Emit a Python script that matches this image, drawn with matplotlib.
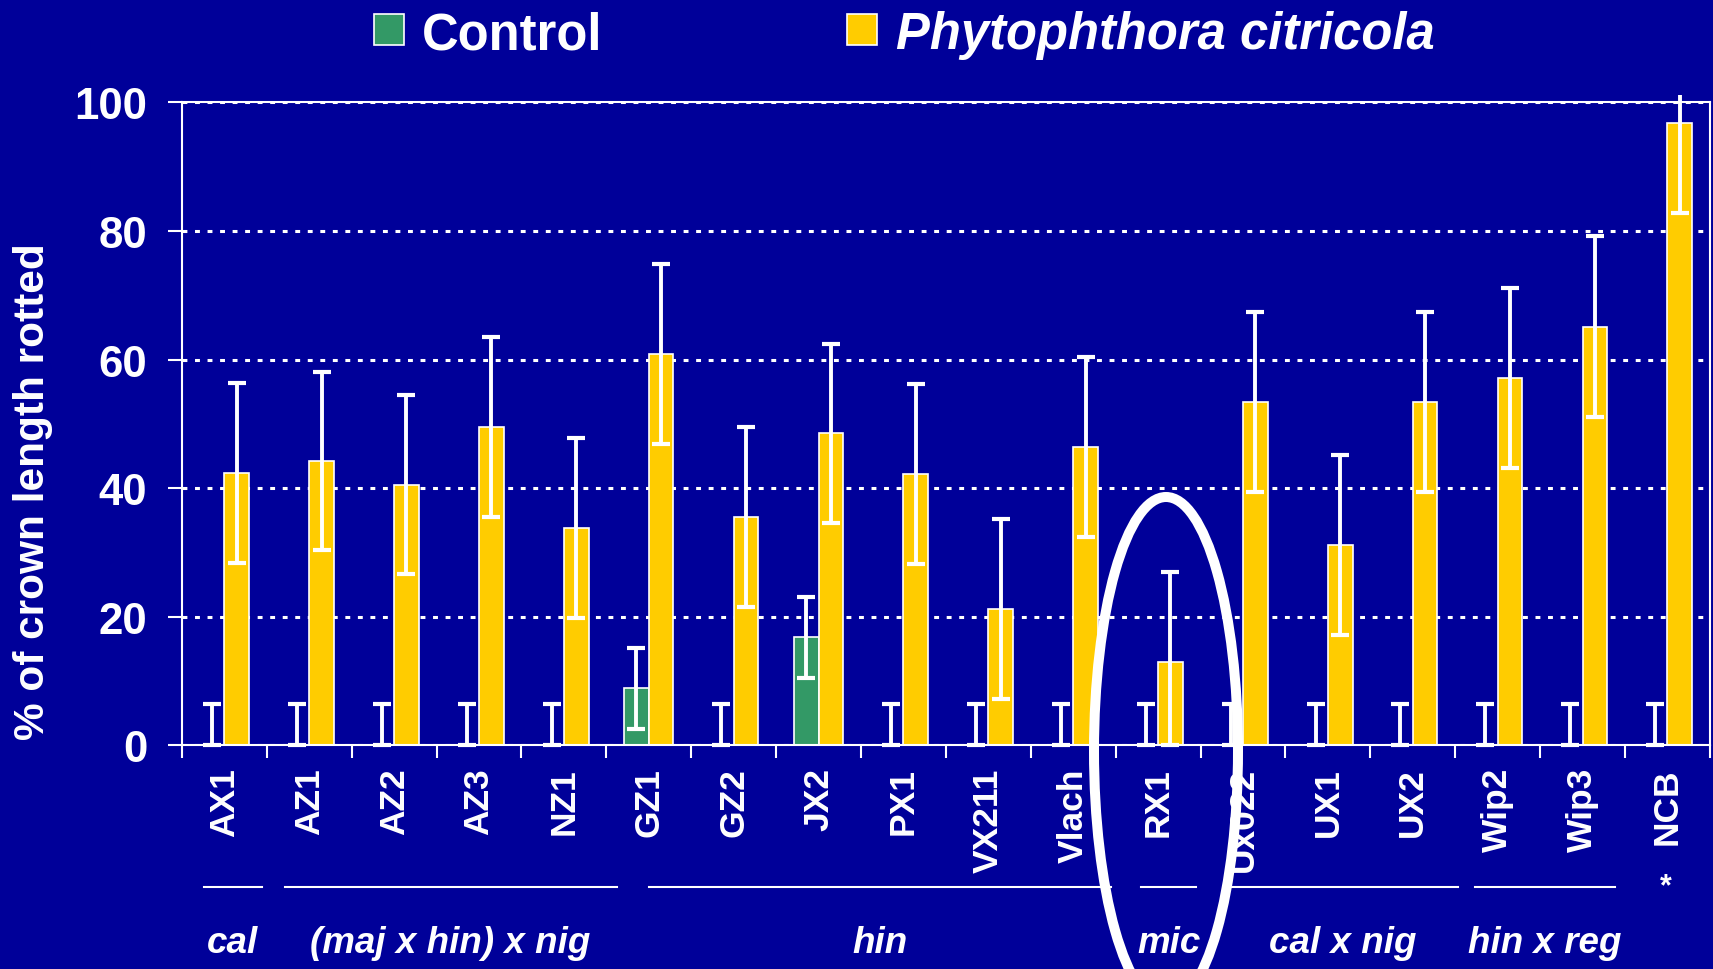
import matplotlib
matplotlib.use("Agg")
import matplotlib.pyplot as plt
import matplotlib.transforms as mtransforms
from matplotlib.patches import Ellipse, Rectangle
import numpy as np

plt.rcParams["font.family"] = ["Liberation Sans", "DejaVu Sans"]
plt.rcParams["font.weight"] = "bold"

# data
cultivars = ["AX1", "AZ1", "AZ2", "AZ3", "NZ1", "GZ1", "GZ2", "JX2", "PX1",
             "VX211", "Vlach", "RX1", "Ux022", "UX1", "UX2", "Wip2", "Wip3", "NCB"]
control = [0, 0, 0, 0, 0, 8.8, 0, 16.8, 0, 0, 0, 0, 0, 0, 0, 0, 0, 0]
control_se = [6.4, 6.4, 6.4, 6.4, 6.4, 6.3, 6.4, 6.3, 6.4,
              6.4, 6.4, 6.4, 6.4, 6.4, 6.4, 6.4, 6.4, 6.4]
citricola = [42.4, 44.2, 40.5, 49.5, 33.8, 60.9, 35.5, 48.5, 42.2,
             21.2, 46.4, 12.9, 53.4, 31.1, 53.4, 57.1, 65.1, 96.8]
citricola_se = [14.0, 13.9, 13.9, 14.0, 14.0, 14.0, 14.0, 13.9, 14.0,
                14.0, 14.0, 14.0, 14.0, 14.0, 14.0, 14.0, 14.1, 14.0]

group_names = ["cal", "(maj x hin) x nig", "hin", "mic", "cal x nig", "hin x reg"]
group_spans = [(-0.24, 0.44), (0.71, 4.62), (5.0, 10.45), (10.8, 11.45),
               (11.83, 14.53), (14.73, 16.38)]

BG = "#000099"
GREEN = "#339966"
YELLOW = "#FFCC00"

fig = plt.figure(figsize=(17.13, 9.70), dpi=100, facecolor=BG)
ax = fig.add_axes([0.1062, 0.2309, 0.892, 0.6624], facecolor=BG)

x = np.arange(len(cultivars))
w = 0.29

ax.bar(x - w / 2, control, w, color=GREEN, edgecolor="white", linewidth=1.2, zorder=2)
ax.bar(x + w / 2, citricola, w, color=YELLOW, edgecolor="white", linewidth=1.2, zorder=2)

# error bars: lower part stops at zero, top clipped just above the frame
clip = mtransforms.TransformedBbox(mtransforms.Bbox([[-0.5, -0.6], [17.5, 101.2]]), ax.transData)
for xs, vals, se in [(x - w / 2, control, control_se), (x + w / 2, citricola, citricola_se)]:
    lo = [min(s, v) for s, v in zip(se, vals)]
    eb = ax.errorbar(xs, vals, yerr=[lo, se], fmt="none", ecolor="white",
                     elinewidth=2.8, capsize=6.5, capthick=3.0, zorder=3)
    for art in eb.lines[1] + eb.lines[2]:
        art.set_clip_on(True)
        art.set_clip_box(clip)

ax.set_xlim(-0.5, len(cultivars) - 0.5)
ax.set_ylim(0, 100)
ax.set_yticks([0, 20, 40, 60, 80, 100])
ax.yaxis.grid(True, color="white", linestyle=(0, (1.6, 2.5)), linewidth=2.2, zorder=0)
ax.set_axisbelow(True)

ax.set_xticks(np.arange(len(cultivars) + 1) - 0.5)
ax.set_xticklabels([])
ax.set_xticks(x, minor=True)
ax.set_xticklabels(cultivars, minor=True, rotation=90, fontsize=25.5,
                   fontweight="bold", color="white", va="top")
ax.tick_params(axis="x", which="major", direction="out", length=9.5, width=1.5, color="white")
ax.tick_params(axis="x", which="minor", length=0, pad=16)
ax.tick_params(axis="y", direction="out", length=10, width=1.5, color="white",
               labelcolor="white", labelsize=31.5, pad=15)
for lab in ax.get_yticklabels():
    lab.set_fontweight("bold")

for s in ax.spines.values():
    s.set_color("white")
    s.set_linewidth(1.5)

fig.text(0.0193, 0.4928, "% of crown length rotted", rotation=90, ha="center", va="center",
         fontsize=30.5, fontweight="bold", color="white")

# legend
fig.add_artist(Rectangle((374 / 1713, 1 - 46 / 970), 30 / 1713, 31 / 970,
                         transform=fig.transFigure, facecolor=GREEN, edgecolor="white", lw=1.2))
fig.text(422 / 1713, 1 - 49 / 970, "Control", fontsize=36.5, fontweight="bold",
         color="white", ha="left", va="baseline")
fig.add_artist(Rectangle((847 / 1713, 1 - 46 / 970), 30 / 1713, 31 / 970,
                         transform=fig.transFigure, facecolor=YELLOW, edgecolor="white", lw=1.2))
fig.text(896 / 1713, 1 - 49 / 970, "Phytophthora citricola", fontsize=36.5, fontweight="bold",
         fontstyle="italic", color="white", ha="left", va="baseline")

# species groups under the cultivar names
trans = mtransforms.blended_transform_factory(ax.transData, fig.transFigure)
for name, (a, b) in zip(group_names, group_spans):
    ax.plot([a, b], [0.0845, 0.0845], color="white", lw=1.5, transform=trans, clip_on=False)
    ax.text((a + b) / 2, 0.0175, name, transform=trans, ha="center", va="baseline",
            fontsize=26.5, fontweight="bold", fontstyle="italic", color="white")
ax.text(16.98, 0.0855, "*", transform=trans, ha="center", va="center",
        fontsize=22, fontweight="bold", color="white")

# highlight ring around RX1
fig.add_artist(Ellipse((1166 / 1713, 1 - 752 / 970), 144 / 1713, 508 / 970,
                       transform=fig.transFigure, fill=False, edgecolor="white",
                       linewidth=7.2, zorder=10))

fig.savefig("out.png", dpi=100, facecolor=BG)
